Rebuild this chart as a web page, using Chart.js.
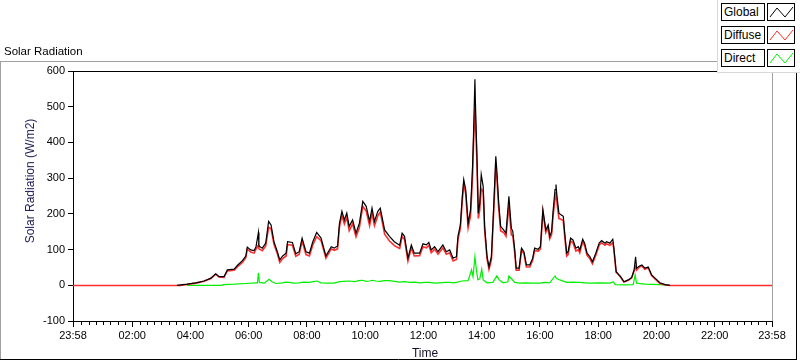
<!DOCTYPE html>
<html><head><meta charset="utf-8">
<script src="https://cdn.jsdelivr.net/npm/chart.js@4/dist/chart.umd.min.js"></script>
<style>
html,body{margin:0;padding:0;background:#fff;}
#wrap{position:relative;width:800px;height:361px;overflow:hidden;font-family:"Liberation Sans",Arial,sans-serif;background:#fff;}
canvas{position:absolute;left:0;top:0;}
.t{position:absolute;white-space:nowrap;color:#000;}
#title{left:4px;top:43px;font-size:11.5px;line-height:16px;}
#ytitle{left:-70px;top:173px;width:200px;text-align:center;font-size:12px;line-height:16px;transform:rotate(-90deg);color:#23235a;}
#xtitle{left:325px;top:345px;width:200px;text-align:center;font-size:12px;line-height:16px;color:#10102a;}
#legend{position:absolute;left:717px;top:0;width:83px;height:73px;background:#fff;border-left:1px solid #d8d8d8;border-bottom:1px solid #d8d8d8;box-sizing:border-box;}
.lab{position:absolute;left:3px;width:44px;height:18px;border:1px solid #000;box-sizing:border-box;font-size:12px;line-height:16px;padding-left:2px;background:#fff;color:#000;white-space:nowrap;}
.smp{position:absolute;left:49px;width:28px;height:18px;border:1px solid #000;box-sizing:border-box;background:#fff;}
.smp svg{position:absolute;left:0;top:0;}
</style>
</head><body>
<div id="wrap">
<canvas id="c" width="800" height="361"></canvas>
<div class="t" id="title">Solar Radiation</div>
<div class="t" id="ytitle">Solar Radiation (W/m2)</div>
<div class="t" id="xtitle">Time</div>
<div id="legend"></div>
</div>
<script>
// ---- data (minutes after midnight; -2 = 23:58 of the previous day) ----
const seriesNames = ['Global', 'Diffuse', 'Direct'];
const seriesColors = ['#000000', '#ff2e2e', '#00f000'];

const timeMin = [
 -2,212,220,233,251,268,282,292,299,309,
 316,330,337,347,354,357,364,371,375,380,
 381,388,395,401,406,412,419,424,430,437,
 440,450,457,464,470,478,485,492,500,509,
 519,530,536,543,547,552,557,562,567,574,
 581,588,595,602,609,614,619,626,631,640,
 650,660,671,676,681,688,695,701,712,719,
 726,731,736,743,750,760,767,774,781,788,
 791,796,800,803,807,812,817,821,823,826,
 827,830,833,836,839,843,846,851,855,860,
 865,869,871,875,879,885,890,896,901,904,
 908,911,917,922,927,932,939,945,949,956,
 961,966,972,977,980,984,987,991,993,995,
 999,1004,1008,1011,1015,1018,1023,1028,1034,1039,
 1042,1048,1052,1057,1063,1068,1075,1082,1087,1094,
 1097,1104,1110,1112,1117,1121,1126,1133,1142,1149,
 1154,1157,1159,1165,1170,1176,1183,1190,1197,1207,
 1218,1228,1438];

// null = no global reading drawn overnight
const globalRad = [
 null,0,1,3,7,12,20,32,24,24,
 43,45,56,69,82,107,99,97,108,148,
 110,104,118,179,169,122,94,71,82,90,
 122,120,88,94,132,94,90,122,148,132,
 82,108,104,110,174,207,183,202,165,183,
 146,174,235,221,179,216,179,207,216,155,
 137,122,112,146,137,76,113,90,90,116,
 113,120,99,108,94,113,94,99,76,80,
 137,169,249,296,268,174,212,329,417,577,
 511,371,202,230,310,277,165,80,52,80,
 230,361,324,230,165,155,146,249,160,151,
 99,48,48,104,94,57,57,76,104,101,
 108,212,155,169,137,151,207,268,282,249,
 202,197,193,146,90,94,132,127,104,108,
 99,129,118,90,80,66,90,118,125,118,
 122,118,129,108,38,32,24,10,15,22,
 43,80,48,54,57,48,51,29,20,7,
 2,0,null];

const diffuseRad = [
 -0.5,-0.5,-0.5,2,6,11,19,31,23,22,
 40,42,52,64,77,101,93,90,101,113,
 102,97,110,162,159,115,88,64,75,82,
 114,112,81,87,124,86,82,113,136,125,
 76,102,98,102,164,196,172,190,153,172,
 136,162,221,208,167,202,167,195,205,143,
 124,111,103,137,128,68,105,82,83,108,
 105,112,91,101,87,105,87,91,68,72,
 128,159,237,284,256,161,195,300,390,497,
 460,350,187,212,270,262,155,73,45,72,
 215,335,305,215,152,148,137,223,141,139,
 91,42,42,98,88,51,51,70,98,95,
 102,205,148,162,130,142,194,242,262,232,
 187,184,181,136,82,86,124,119,96,100,
 91,122,111,84,74,60,84,112,119,112,
 116,112,119,102,36,31,23,9,14,21,
 41,51,42,51,54,45,49,27,18,5,
 1,-0.5,-0.5];

const directTime = [
 233,303,309,330,354,375,378,380,382,392,
 402,408,416,429,436,444,452,464,472,485,
 493,501,509,522,536,547,556,567,579,586,
 594,602,609,615,622,630,640,650,660,671,
 681,692,702,712,722,733,743,754,764,774,
 782,790,799,812,819,822,826,829,832,836,
 840,843,851,863,871,876,884,894,896,901,
 908,918,930,945,960,970,980,991,994,1001,
 1015,1028,1042,1052,1063,1083,1104,1111,1115,1135,
 1152,1156,1159,1176,1207,1218,1228];

const directRad = [
 0,0,2,3,5,7,7,35,8,6,
 17,10,5,7,9,8,6,7,9,8,
 10,12,7,6,6,10,11,12,10,13,
 14,11,12,14,12,11,13,13,11,9,
 10,8,9,7,8,8,6,7,8,8,
 7,9,12,13,43,24,80,43,15,18,
 45,15,7,8,26,15,7,10,26,19,
 8,6,7,6,6,8,7,26,19,15,
 8,9,8,7,6,7,6,10,2,1,
 2,29,6,3,2,1,0];

// ---- axis ticks ----
const xTickValues = [-2,120,240,360,480,600,720,840,960,1080,1200,1320,1438];
const xTickLabels = ['23:58','02:00','04:00','06:00','08:00','10:00','12:00','14:00','16:00','18:00','20:00','22:00','23:58'];
const xMinorStep = 15;
const yMin = -100, yMax = 600, yStep = 100;

function pts(ts, vs){ const n=Math.min(ts.length, vs.length); const out=[]; for(let i=0;i<n;i++) out.push({x:ts[i], y:vs[i]}); return out; }

// ---- legend ----
const leg = document.getElementById('legend');
const tops = [3, 26, 49];
seriesNames.forEach((name, i) => {
  const l = document.createElement('div'); l.className='lab'; l.style.top = tops[i]+'px'; l.textContent = name; leg.appendChild(l);
  const s = document.createElement('div'); s.className='smp'; s.style.top = tops[i]+'px';
  s.innerHTML = '<svg width="26" height="16" viewBox="0 0 26 16"><polyline points="2,13 9,4 17,13 25,3" fill="none" stroke="'+seriesColors[i]+'" stroke-width="1"/></svg>';
  leg.appendChild(s);
});

Chart.defaults.font.family = '"Liberation Sans", Arial, sans-serif';

const framePlugin = {
  id: 'frame',
  afterDraw(chart){
    const {ctx, chartArea:a, scales} = chart;
    const x = scales.x;
    ctx.save();
    ctx.lineWidth = 1;
    ctx.strokeStyle = '#a0a0a0';
    ctx.beginPath();
    ctx.moveTo(0, 61.5); ctx.lineTo(720, 61.5);
    ctx.moveTo(0.5, 61.5); ctx.lineTo(0.5, 360);
    ctx.stroke();
    ctx.strokeStyle = '#000';
    ctx.beginPath();
    ctx.moveTo(0, 359.5); ctx.lineTo(797, 359.5);
    ctx.moveTo(796.5, 70); ctx.lineTo(796.5, 360);
    ctx.stroke();
    const ty = Math.round(a.top) + 0.5;
    ctx.beginPath(); ctx.moveTo(a.left, ty); ctx.lineTo(a.right + 1, ty); ctx.stroke();
    ctx.strokeStyle = '#a0a0a0';
    ctx.beginPath(); ctx.moveTo(Math.round(a.right) + 0.5, ty + 0.5); ctx.lineTo(Math.round(a.right) + 0.5, a.bottom); ctx.stroke();
    ctx.strokeStyle = '#000';
    ctx.beginPath();
    for (let m = xMinorStep; m < xTickValues[xTickValues.length-1]; m += xMinorStep) {
      if (m % 120 === 0) continue;
      const px = Math.round(x.getPixelForValue(m)) + 0.5;
      ctx.moveTo(px, Math.round(a.bottom) + 0.5); ctx.lineTo(px, Math.round(a.bottom) + 4);
    }
    ctx.stroke();
    ctx.restore();
  }
};

new Chart(document.getElementById('c'), {
  type: 'line',
  data: {
    datasets: [
      {label: seriesNames[0], data: pts(timeMin, globalRad), borderColor: seriesColors[0], borderWidth: 1.2, pointRadius: 0, tension: 0, fill: false, spanGaps: false, order: 1},
      {label: seriesNames[1], data: pts(timeMin, diffuseRad), borderColor: seriesColors[1], borderWidth: 1.6, pointRadius: 0, tension: 0, fill: false, order: 2},
      {label: seriesNames[2], data: pts(directTime, directRad), borderColor: seriesColors[2], borderWidth: 1.2, pointRadius: 0, tension: 0, fill: false, order: 3}
    ]
  },
  options: {
    responsive: false, animation: false, devicePixelRatio: 1,
    layout: {padding: {top: 71, right: 28, left: 0, bottom: 0}},
    plugins: {legend: {display: false}, tooltip: {enabled: false}, title: {display: false}},
    scales: {
      x: {
        type: 'linear', min: xTickValues[0], max: xTickValues[xTickValues.length-1],
        afterBuildTicks: s => { s.ticks = xTickValues.map(v => ({value: v})); },
        afterFit: s => { s.height = 40; },
        ticks: {autoSkip: false, maxRotation: 0, minRotation: 0, padding: 2, color: '#000', font: {size: 11},
                callback: (v, i) => xTickLabels[i]},
        grid: {drawOnChartArea: false, drawTicks: true, tickLength: 6, color: '#000', lineWidth: 1},
        border: {display: true, color: '#000', width: 1}
      },
      y: {
        min: yMin, max: yMax,
        afterFit: s => { s.width = 73; },
        ticks: {stepSize: yStep, padding: 3, color: '#000', font: {size: 11}},
        grid: {drawOnChartArea: false, drawTicks: true, tickLength: 5, color: '#000', lineWidth: 1},
        border: {display: true, color: '#000', width: 1}
      }
    }
  },
  plugins: [framePlugin]
});
</script>
</body></html>
